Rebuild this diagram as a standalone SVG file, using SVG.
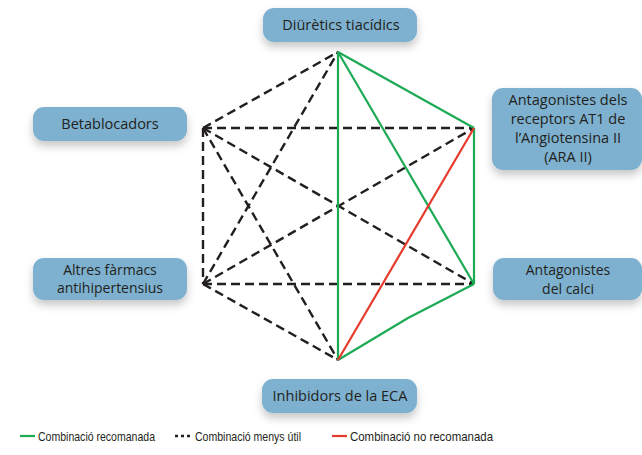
<svg xmlns="http://www.w3.org/2000/svg" width="642" height="455" viewBox="0 0 642 455">
<defs>
<filter id="sh" x="-20%" y="-30%" width="140%" height="180%">
<feDropShadow dx="0" dy="5" stdDeviation="4" flood-color="#000" flood-opacity="0.22"/>
</filter>
<style>
.box{fill:#7db1cf;filter:url(#sh)}
.t{font-family:"Open Sans","Noto Sans",sans-serif;font-size:14.5px;fill:#231f20;text-anchor:middle}
.t2{font-family:"Open Sans","Noto Sans",sans-serif;font-size:14px;fill:#231f20;text-anchor:middle}
.d{stroke:#231f20;stroke-width:2.4;stroke-dasharray:9 5;fill:none}
.g{stroke:#1daa55;stroke-width:2.2;fill:none}
.r{stroke:#e63a2c;stroke-width:2.2;fill:none}
.lg{font-family:"Liberation Sans",Arial,sans-serif;font-size:13.5px;fill:#231f20}
</style>
</defs>
<rect width="642" height="455" fill="#fff"/>
<g id="connectors">
<line class="d" x1="203" y1="128" x2="338" y2="52"/>
<line class="d" x1="203" y1="128" x2="474" y2="128"/>
<line class="d" x1="203" y1="128" x2="474" y2="284"/>
<line class="d" x1="203" y1="128" x2="203" y2="284"/>
<line class="d" x1="203" y1="128" x2="338" y2="360"/>
<line class="d" x1="203" y1="284" x2="338" y2="52"/>
<line class="d" x1="203" y1="284" x2="474" y2="128"/>
<line class="d" x1="203" y1="284" x2="474" y2="284"/>
<line class="d" x1="203" y1="284" x2="338" y2="360"/>
<line class="g" x1="338" y1="52" x2="338" y2="360"/>
<line class="g" x1="338" y1="52" x2="474" y2="128"/>
<line class="g" x1="338" y1="52" x2="474" y2="284"/>
<line class="g" x1="474" y1="128" x2="474" y2="284"/>
<polyline class="g" points="474,284 408,318 338,360"/>
<line class="r" x1="474" y1="128" x2="338" y2="360"/>
</g>
<g id="n-diuretics">
<rect class="box" x="263" y="8" width="154" height="34" rx="11"/>
<text class="t" x="341" y="30">Diürètics tiacídics</text>
</g>
<g id="n-betablocadors">
<rect class="box" x="33" y="107" width="154" height="34" rx="11"/>
<text class="t" x="110" y="129">Betablocadors</text>
</g>
<g id="n-ara">
<rect class="box" x="492" y="88" width="150" height="82" rx="11"/>
<text class="t" x="568" y="105">Antagonistes dels</text>
<text class="t" x="568" y="124">receptors AT1 de</text>
<text class="t" x="568" y="143">l’Angiotensina II</text>
<text class="t" x="568" y="162">(ARA II)</text>
</g>
<g id="n-altres">
<rect class="box" x="33" y="258" width="154" height="42" rx="11"/>
<text class="t2" x="110" y="275">Altres fàrmacs</text>
<text class="t2" x="110" y="293">antihipertensius</text>
</g>
<g id="n-calci">
<rect class="box" x="493" y="258" width="149" height="42" rx="11"/>
<text class="t2" x="568" y="275">Antagonistes</text>
<text class="t2" x="568" y="294">del calci</text>
</g>
<g id="n-eca">
<rect class="box" x="262" y="379" width="155" height="34" rx="11"/>
<text class="t" x="340" y="401">Inhibidors de la ECA</text>
</g>
<g id="legend">
<line class="g" x1="20" y1="436" x2="35" y2="436"/>
<text class="lg" x="38" y="441" textLength="117" lengthAdjust="spacingAndGlyphs">Combinació recomanada</text>
<line stroke="#231f20" stroke-width="2.4" stroke-dasharray="3 3" x1="175" y1="436" x2="193" y2="436"/>
<text class="lg" x="195" y="441" textLength="106" lengthAdjust="spacingAndGlyphs">Combinació menys útil</text>
<line class="r" x1="332" y1="436" x2="347" y2="436"/>
<text class="lg" x="350" y="441" textLength="143" lengthAdjust="spacingAndGlyphs">Combinació no recomanada</text>
</g>
</svg>
